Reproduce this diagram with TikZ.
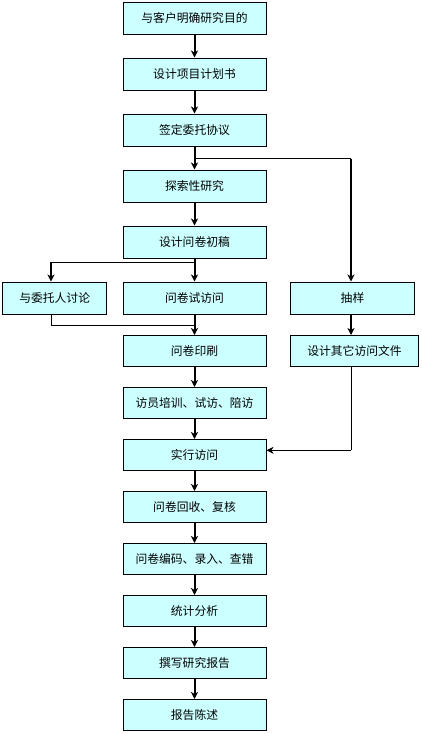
\documentclass[tikz,border=0pt]{standalone}
\usepackage{fontspec}
\newfontfamily\cjk{Noto Sans CJK SC}
\usetikzlibrary{arrows.meta,calc}
\definecolor{boxfill}{HTML}{CCFFFF}
\begin{document}
\begin{tikzpicture}[x=1pt,y=-1pt,
  box/.style={draw=black,line width=1pt,fill=boxfill,minimum width=143pt,minimum height=31pt,inner sep=0pt,font=\cjk\fontsize{11.8}{12}\selectfont},
  flow/.style={line width=2pt,-{Stealth[length=7pt,width=7pt,inset=2pt]}},
  flowthin/.style={line width=1pt,-{Stealth[length=7pt,width=7pt,inset=2pt]}},
  thinline/.style={line width=1pt}]
\useasboundingbox (0,0) rectangle (422,734);
\node[box,minimum height=32pt] (b1) at (194.5,18) {与客户明确研究目的};
\node[box,minimum height=32pt] (b2) at (194.5,74) {设计项目计划书};
\node[box,minimum height=32pt] (b3) at (194.5,130) {签定委托协议};
\node[box,minimum height=32pt] (b4) at (194.5,186) {探索性研究};
\node[box,minimum height=32pt] (b5) at (194.5,242) {设计问卷初稿};
\node[box,minimum height=32pt] (b6) at (194.5,298) {问卷试访问};
\node[box,minimum height=32pt,minimum width=104pt] (lt) at (54.7,298) {与委托人讨论};
\node[box,minimum height=32pt,minimum width=124pt] (samp) at (352.5,298) {抽样};
\node[box] (b7) at (194.5,351) {问卷印刷};
\node[box,minimum width=128pt] (doc) at (354.5,351) {设计其它访问文件};
\node[box] (b8) at (194.5,403) {访员培训、试访、陪访};
\node[box] (b9) at (194.5,455) {实行访问};
\node[box] (b10) at (194.5,507) {问卷回收、复核};
\node[box] (b11) at (194.5,559) {问卷编码、录入、查错};
\node[box] (b12) at (194.5,611) {统计分析};
\node[box] (b13) at (194.5,663) {撰写研究报告};
\node[box] (b14) at (194.5,715) {报告陈述};
% main arrows
\draw[flow] (b1) -- (b2);
\draw[flow] (b2) -- (b3);
\draw[flow] (b3) -- (b4);
\draw[flow] (b4) -- (b5);
\draw[flow] (b5) -- (b6);
\draw[flow] (b6) -- (b7);
\draw[flow] (b7) -- (b8);
\draw[flow] (b8) -- (b9);
\draw[flow] (b9) -- (b10);
\draw[flow] (b10) -- (b11);
\draw[flow] (b11) -- (b12);
\draw[flow] (b12) -- (b13);
\draw[flow] (b13) -- (b14);
% branch to sampling
\coordinate (j1) at (194.5,158.7);
\coordinate (j1r) at (351,158.7);
\draw[thinline] (j1) -- (j1r);
\draw[flow] (j1r) -- (j1r |- samp.north);
\draw[flow] (samp.south -| j1r) -- (doc.north -| j1r);
% branch to client discussion
\coordinate (j2) at (194.5,262.3);
\coordinate (j2l) at (51,262.3);
\draw[thinline] (j2) -- (j2l);
\draw[flow] (j2l) -- (j2l |- lt.north);
% client discussion back to printing
\coordinate (j3) at (51,325);
\draw[thinline] (lt.south -| j3) -- (j3) -- (j3 -| b7.north);
% other docs to interviewing
\coordinate (j4) at (351,450.3);
\draw[thinline] (doc.south -| j4) -- (j4);
\draw[flowthin] (j4) -- (j4 -| b9.east);
\end{tikzpicture}
\end{document}
